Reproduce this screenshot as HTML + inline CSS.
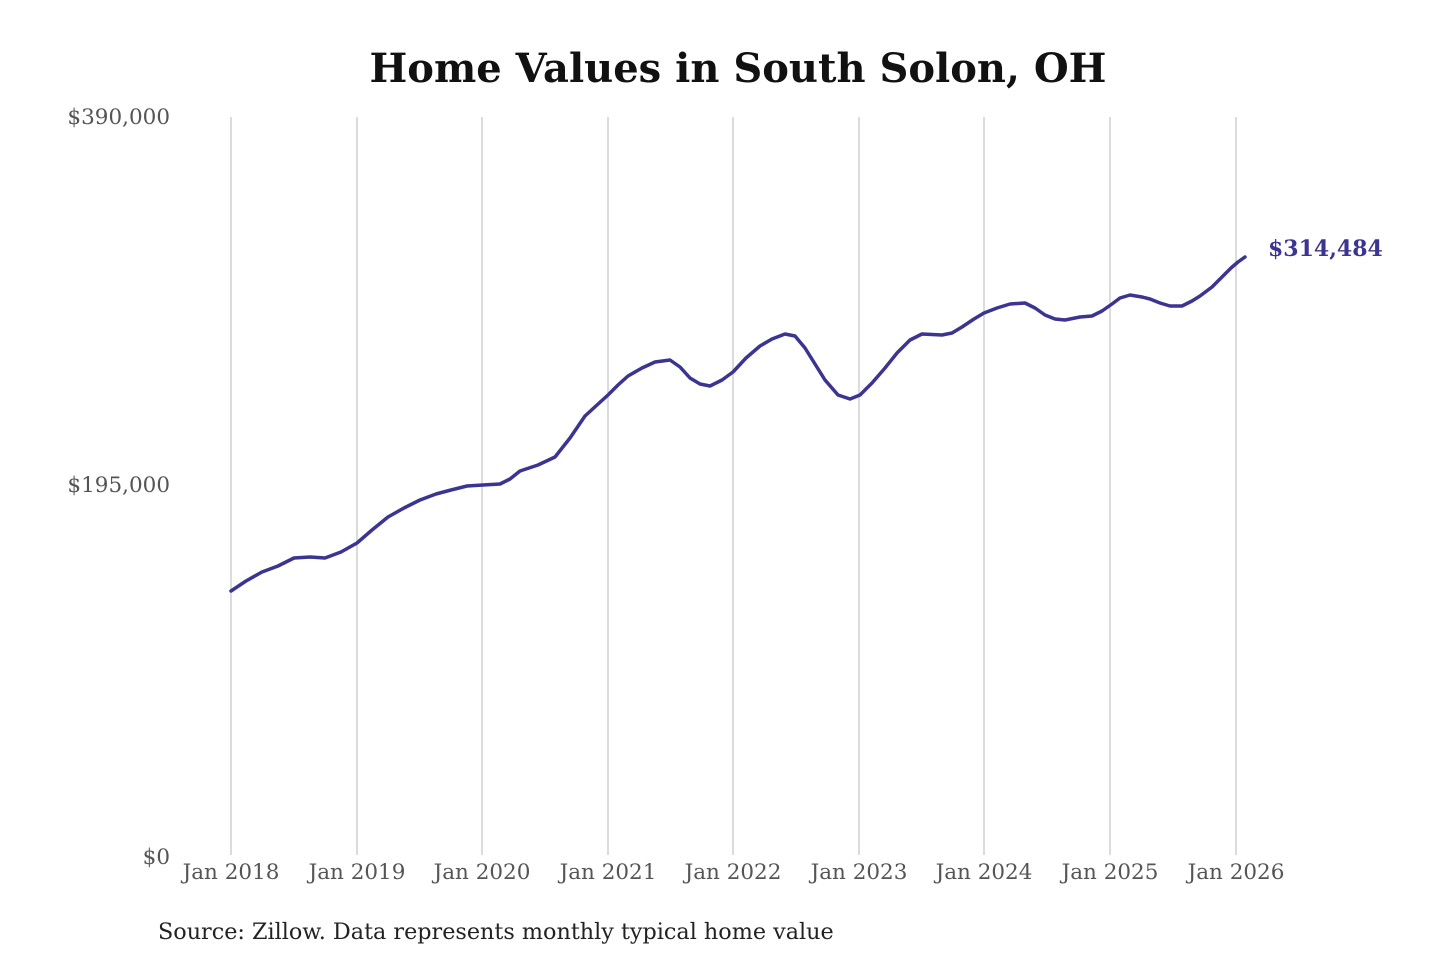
<!DOCTYPE html>
<html><head><meta charset="utf-8"><style>
html,body{margin:0;padding:0;background:#fff;}
svg{display:block;}
</style></head><body>
<svg width="1440" height="960" viewBox="0 0 1440 960" xmlns="http://www.w3.org/2000/svg">
<rect width="1440" height="960" fill="#fff"/>
<text x="738" y="82" text-anchor="middle" font-family="'DejaVu Serif','Liberation Serif',serif" font-weight="bold" font-size="40" fill="#111">Home Values in South Solon, OH</text>
<g stroke="#c8c8c8" stroke-width="1.3">
<line x1="231" y1="117" x2="231" y2="855"/>
<line x1="357" y1="117" x2="357" y2="855"/>
<line x1="482" y1="117" x2="482" y2="855"/>
<line x1="608" y1="117" x2="608" y2="855"/>
<line x1="733" y1="117" x2="733" y2="855"/>
<line x1="859" y1="117" x2="859" y2="855"/>
<line x1="984" y1="117" x2="984" y2="855"/>
<line x1="1110" y1="117" x2="1110" y2="855"/>
<line x1="1236" y1="117" x2="1236" y2="855"/>
</g>
<g font-family="'DejaVu Serif','Liberation Serif',serif" font-size="21.5" fill="#555">
<text x="170" y="124" text-anchor="end">$390,000</text>
<text x="170" y="492" text-anchor="end">$195,000</text>
<text x="170" y="864" text-anchor="end">$0</text>
<g text-anchor="middle">
<text x="231" y="879">Jan 2018</text>
<text x="357" y="879">Jan 2019</text>
<text x="482" y="879">Jan 2020</text>
<text x="608" y="879">Jan 2021</text>
<text x="733" y="879">Jan 2022</text>
<text x="859" y="879">Jan 2023</text>
<text x="984" y="879">Jan 2024</text>
<text x="1110" y="879">Jan 2025</text>
<text x="1236" y="879">Jan 2026</text>
</g>
</g>
<polyline fill="none" stroke="#3b3591" stroke-width="3.5" stroke-linejoin="round" stroke-linecap="round"
points="231,591 246,581 262,572 278,566 294,558 310,557 325,558 341,552 357,543 372,530 388,517 404,508 420,500 436,494 451,490 467,486 483,485 500,484 510,479 520,471 538,465 555,457 570,438 585,416 597,405 608,395 618,385 628,376 642,368 655,362 670,360 680,367 690,378 700,384 710,386 722,380 733,372 746,358 760,346 772,339 785,334 795,336 805,348 815,364 825,380 838,395 850,399 860,395 872,383 885,368 897,353 910,340 922,334 942,335 952,333 962,327 974,319 984,313 997,308 1010,304 1025,303 1035,308 1045,315 1055,319 1065,320 1080,317 1092,316 1102,311 1112,304 1120,298 1130,295 1142,297 1150,299 1160,303 1170,306 1182,306 1192,301 1200,296 1212,287 1222,277 1231,268 1238,262 1245,257"/>
<text x="1268" y="256" font-family="'DejaVu Serif','Liberation Serif',serif" font-weight="bold" font-size="22" fill="#3b3591">$314,484</text>
<text x="158" y="939" font-family="'DejaVu Serif','Liberation Serif',serif" font-size="22.3" fill="#222">Source: Zillow. Data represents monthly typical home value</text>
</svg>
</body></html>
